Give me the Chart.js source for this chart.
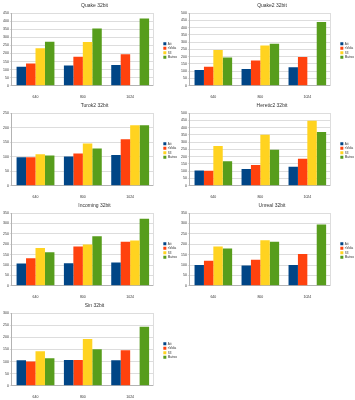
<!DOCTYPE html>
<html>
<head>
<meta charset="utf-8">
<script src="https://cdn.jsdelivr.net/npm/chart.js@4/dist/chart.umd.min.js"></script>
<style>
html,body{margin:0;padding:0;background:#fff;}
body{width:355px;height:400px;position:relative;overflow:hidden;}
canvas{position:absolute;}
</style>
</head>
<body>
<canvas id="c0" width="178" height="100" style="left:0;top:0"></canvas>
<canvas id="c1" width="177" height="100" style="left:178px;top:0"></canvas>
<canvas id="c2" width="178" height="100" style="left:0;top:100px"></canvas>
<canvas id="c3" width="177" height="100" style="left:178px;top:100px"></canvas>
<canvas id="c4" width="178" height="100" style="left:0;top:200px"></canvas>
<canvas id="c5" width="177" height="100" style="left:178px;top:200px"></canvas>
<canvas id="c6" width="178" height="100" style="left:0;top:300px"></canvas>
<script>
const categories = ['640', '800', '1024'];
const seriesNames = ['Ati', 'nVidia', 'S3', 'Matrox'];
const chartTitles = ['Quake 32bit', 'Quake2 32bit', 'Turok2 32bit', 'Heretic2 32bit', 'Incoming 32bit', 'Unreal 32bit', 'Sin 32bit'];
const axisMax = [450, 500, 250, 500, 350, 350, 300];

const quakeAti = [117, 126, 128];
const quakeNvidia = [138, 180, 195];
const quakeS3 = [232, 270, null];
const quakeMatrox = [272, 354, 416];

const quake2Ati = [109, 115, 128];
const quake2Nvidia = [130, 173, 197];
const quake2S3 = [246, 276, null];
const quake2Matrox = [194, 288, 438];

const turok2Ati = [98, 101, 106];
const turok2Nvidia = [98, 111, 160];
const turok2S3 = [108, 145, 208];
const turok2Matrox = [104, 128, 208];

const heretic2Ati = [105, 115, 130];
const heretic2Nvidia = [103, 143, 186];
const heretic2S3 = [274, 350, 447];
const heretic2Matrox = [169, 248, 370];

const incomingAti = [107, 109, 112];
const incomingNvidia = [133, 189, 212];
const incomingS3 = [182, 198, 218];
const incomingMatrox = [161, 238, 322];

const unrealAti = [100, 98, 100];
const unrealNvidia = [121, 125, 153];
const unrealS3 = [189, 219, null];
const unrealMatrox = [179, 212, 295];

const sinAti = [105, 106, 105];
const sinNvidia = [100, 106, 146];
const sinS3 = [142, 193, null];
const sinMatrox = [114, 151, 243];

const chartSeries = [
  [quakeAti, quakeNvidia, quakeS3, quakeMatrox],
  [quake2Ati, quake2Nvidia, quake2S3, quake2Matrox],
  [turok2Ati, turok2Nvidia, turok2S3, turok2Matrox],
  [heretic2Ati, heretic2Nvidia, heretic2S3, heretic2Matrox],
  [incomingAti, incomingNvidia, incomingS3, incomingMatrox],
  [unrealAti, unrealNvidia, unrealS3, unrealMatrox],
  [sinAti, sinNvidia, sinS3, sinMatrox]
];

const colors = ['#004586', '#ff420e', '#ffd320', '#579d1c'];
const FONT = 'Liberation Sans, Arial, sans-serif';

chartTitles.forEach((title, i) => {
  const ctx = document.getElementById('c' + i);
  new Chart(ctx, {
    type: 'bar',
    data: {
      labels: categories,
      datasets: seriesNames.map((name, s) => ({
        label: name,
        data: chartSeries[i][s],
        backgroundColor: colors[s],
        borderWidth: 0,
        categoryPercentage: 0.8,
        barPercentage: 1.0
      }))
    },
    options: {
      responsive: false,
      animation: false,
      devicePixelRatio: 1,
      layout: { padding: { top: 1, left: 2, right: -9, bottom: 0 } },
      plugins: {
        title: {
          display: true, text: title, color: '#333',
          font: { size: 5, family: FONT, weight: 'normal' },
          padding: { top: 2, bottom: 4 }
        },
        legend: {
          position: 'right',
          labels: {
            boxWidth: 3, boxHeight: 3, padding: 1.5, color: '#333',
            font: { size: 3, family: FONT }
          }
        },
        tooltip: { enabled: false }
      },
      scales: {
        x: {
          grid: { display: false },
          border: { color: '#b3b3b3', width: 1 },
          ticks: { color: '#333', font: { size: 3.5, family: FONT }, padding: 1 }
        },
        y: {
          min: 0, max: axisMax[i],
          grid: { color: '#dddddd', tickLength: 2 },
          border: { color: '#b3b3b3', width: 1 },
          ticks: { stepSize: 50, color: '#333', font: { size: 3.5, family: FONT }, padding: 1 }
        },
        yr: {
          position: 'right', min: 0, max: axisMax[i],
          grid: { display: false },
          border: { color: '#dddddd', width: 1 },
          ticks: { display: false }
        }
      }
    }
  });
});
</script>
</body>
</html>
